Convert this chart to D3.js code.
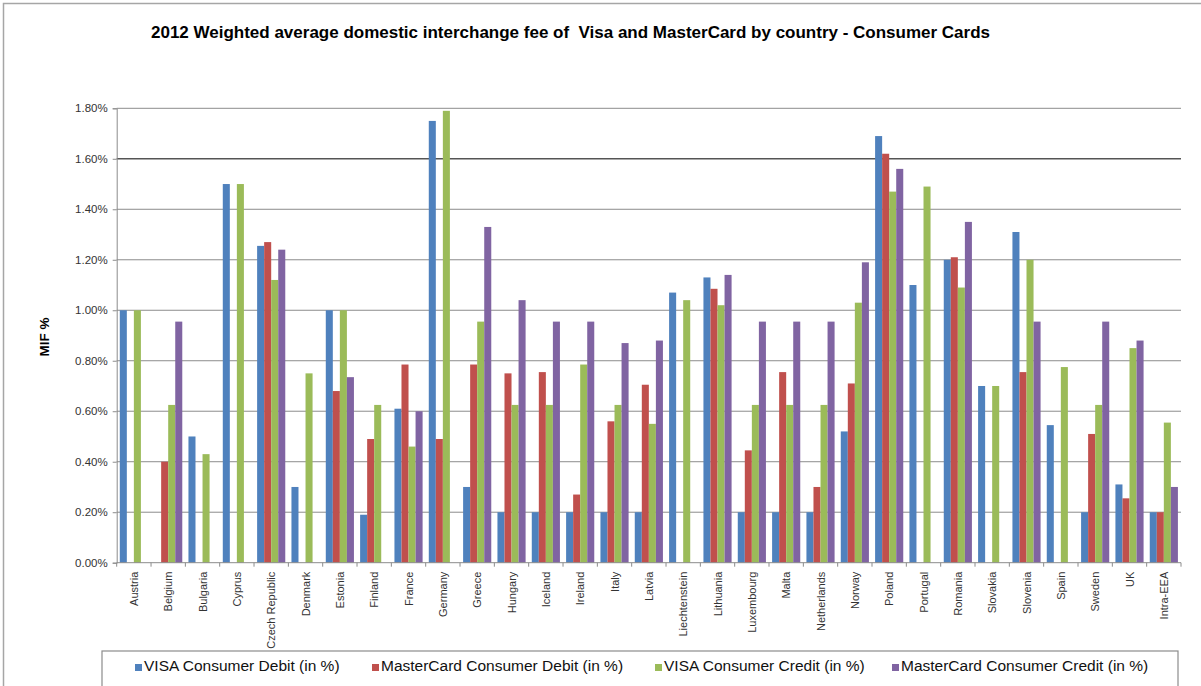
<!DOCTYPE html>
<html>
<head>
<meta charset="utf-8">
<script src="https://cdn.jsdelivr.net/npm/d3@7"></script>
<style>
  html, body { margin: 0; padding: 0; background: #fff; }
  svg { display: block; font-family: "Liberation Sans", Arial, sans-serif; }
</style>
</head>
<body>
<svg id="chart" width="1201" height="686"></svg>
<script>
const countries = ["Austria","Belgium","Bulgaria","Cyprus","Czech Republic","Denmark","Estonia","Finland","France","Germany","Greece","Hungary","Iceland","Ireland","Italy","Latvia","Liechtenstein","Lithuania","Luxembourg","Malta","Netherlands","Norway","Poland","Portugal","Romania","Slovakia","Slovenia","Spain","Sweden","UK","Intra-EEA"];
const seriesNames = ["VISA Consumer Debit (in %)","MasterCard Consumer Debit (in %)","VISA Consumer Credit (in %)","MasterCard Consumer Credit (in %)"];
const visaDebit  = [1.00,0,0.50,1.50,1.255,0.30,1.00,0.19,0.61,1.75,0.30,0.20,0.20,0.20,0.20,0.20,1.07,1.13,0.20,0.20,0.20,0.52,1.69,1.10,1.20,0.70,1.31,0.545,0.20,0.31,0.20];
const mcDebit    = [0,0.40,0,0,1.27,0,0.68,0.49,0.785,0.49,0.785,0.75,0.755,0.27,0.56,0.705,0,1.085,0.445,0.755,0.30,0.71,1.62,0,1.21,0,0.755,0,0.51,0.255,0.20];
const visaCredit = [1.00,0.625,0.43,1.50,1.12,0.75,1.00,0.625,0.46,1.79,0.955,0.625,0.625,0.785,0.625,0.55,1.04,1.02,0.625,0.625,0.625,1.03,1.47,1.49,1.09,0.70,1.20,0.775,0.625,0.85,0.555];
const mcCredit   = [0,0.955,0,0,1.24,0,0.735,0,0.60,0,1.33,1.04,0.955,0.955,0.87,0.88,0,1.14,0.955,0.955,0.955,1.19,1.56,0,1.35,0,0.955,0,0.955,0.88,0.30];
const yTicks = [0,0.2,0.4,0.6,0.8,1.0,1.2,1.4,1.6,1.8];
const colors = ["#4F81BD","#C0504D","#9BBB59","#8064A2"];
const title = "2012 Weighted average domestic interchange fee of  Visa and MasterCard by country - Consumer Cards";

const seriesValues = [visaDebit, mcDebit, visaCredit, mcCredit];
const svg = d3.select("#chart");

// outer frame (left & top visible)
svg.append("path").attr("d","M3.5,686 L3.5,3.5 L1201,3.5").attr("fill","none").attr("stroke","#a6a6a6").attr("stroke-width",1.5);

const pLeft = 116.7, pRight = 1181, pTop = 108.3, pBottom = 562.7;
const x = d3.scaleBand().domain(countries).range([pLeft, pRight]).paddingInner(0.18).paddingOuter(0.09);
const xs = d3.scaleBand().domain(d3.range(4)).range([0, x.bandwidth()]).padding(0);
const y = d3.scaleLinear().domain([0, 1.8]).range([pBottom, pTop]);

// gridlines
svg.append("g").selectAll("line").data(yTicks.filter(d => d > 0)).join("line")
  .attr("x1", pLeft).attr("x2", pRight)
  .attr("y1", d => y(d)).attr("y2", d => y(d))
  .attr("stroke", d => Math.abs(d - 1.6) < 1e-9 ? "#555" : "#8c8c8c")
  .attr("stroke-width", d => Math.abs(d - 1.6) < 1e-9 ? 1.6 : 1);

// y axis
const yAxis = d3.axisLeft(y).tickValues(yTicks).tickFormat(d => d3.format(".2f")(d) + "%").tickSizeOuter(0).tickSize(4);
const yg = svg.append("g").attr("transform", `translate(${pLeft},0)`).call(yAxis);
yg.select(".domain").attr("stroke", "#8c8c8c");
yg.selectAll(".tick line").attr("stroke", "#8c8c8c");
yg.selectAll(".tick text").attr("fill", "#333").attr("font-size", "11.5px").attr("font-family", "Liberation Sans, Arial, sans-serif").attr("x", -9);

// bars
const groups = svg.append("g").selectAll("g").data(countries).join("g")
  .attr("transform", d => `translate(${x(d)},0)`);
groups.selectAll("rect").data((c, i) => seriesValues.map((s, k) => ({k, v: s[i]}))).join("rect")
  .attr("x", d => xs(d.k))
  .attr("width", xs.bandwidth())
  .attr("y", d => y(d.v))
  .attr("height", d => pBottom - y(d.v))
  .attr("fill", d => colors[d.k]);

// x axis line + ticks between categories
svg.append("line").attr("x1", pLeft).attr("x2", pRight).attr("y1", pBottom).attr("y2", pBottom).attr("stroke", "#8c8c8c").attr("stroke-width", 1);
const boundaries = d3.range(countries.length + 1).map(i => pLeft + i * x.step());
svg.append("g").selectAll("line").data(boundaries).join("line")
  .attr("x1", d => d).attr("x2", d => d).attr("y1", pBottom).attr("y2", pBottom + 4)
  .attr("stroke", "#8c8c8c");

// x labels
svg.append("g").selectAll("text").data(countries).join("text")
  .attr("transform", d => `translate(${x(d) + x.bandwidth() / 2 + 4},${pBottom + 9}) rotate(-90)`)
  .attr("text-anchor", "end")
  .attr("font-size", "11px")
  .attr("fill", "#333")
  .text(d => d);

// title
svg.append("text").attr("x", 151).attr("y", 38)
  .attr("font-family", "'Liberation Sans', Arial, sans-serif")
  .attr("font-weight", "bold").attr("font-size", "16px")
  .attr("textLength", 839).attr("lengthAdjust", "spacingAndGlyphs")
  .style("white-space", "pre")
  .attr("fill", "#000")
  .text(title);

// y axis label
svg.append("text").attr("transform", "translate(49,337) rotate(-90)")
  .attr("text-anchor", "middle").attr("font-weight", "bold").attr("font-size", "13.5px")
  .text("MIF %");

// legend
svg.append("rect").attr("x", 102).attr("y", 651).attr("width", 1076).attr("height", 40)
  .attr("fill", "#fff").attr("stroke", "#8c8c8c").attr("stroke-width", 1.2);
const legX = [135, 372, 655, 892];
const leg = svg.append("g").selectAll("g").data(seriesNames).join("g")
  .attr("transform", (d, i) => `translate(${legX[i]},671)`);
leg.append("rect").attr("x", 0).attr("y", -7).attr("width", 7).attr("height", 7).attr("fill", (d, i) => colors[i]);
leg.append("text").attr("x", 9).attr("y", 0).attr("font-size", "15.5px").attr("fill", "#111").text(d => d);
</script>
</body>
</html>
